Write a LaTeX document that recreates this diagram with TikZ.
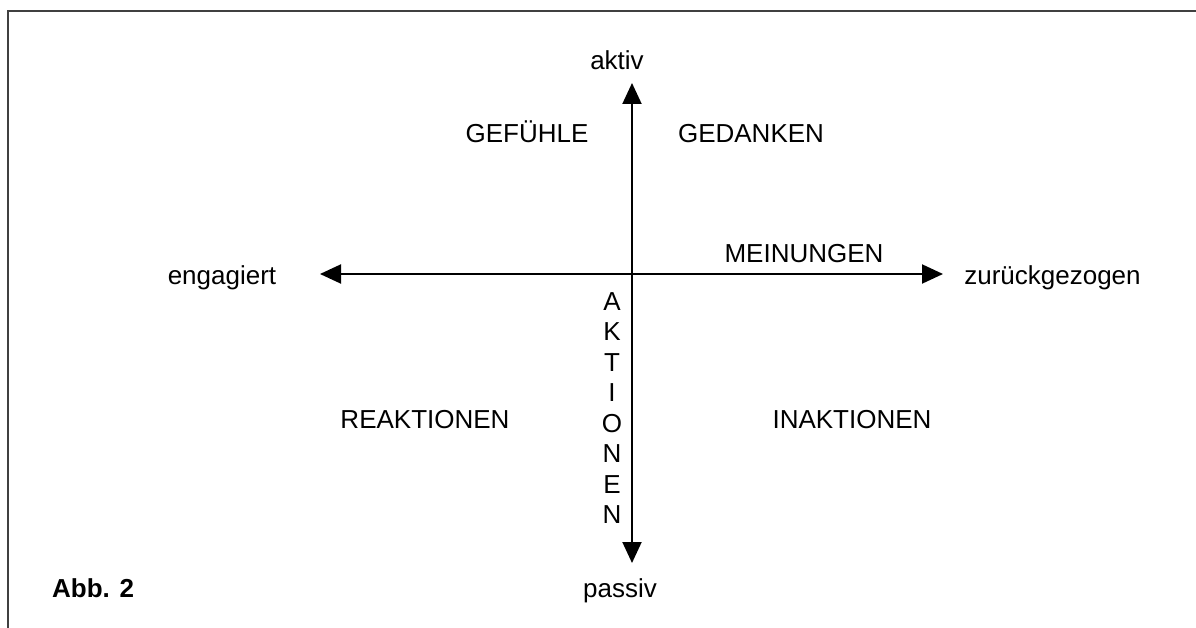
\documentclass[tikz,border=0pt]{standalone}
\usepackage{fontspec}
\setmainfont{Liberation Sans}
\usetikzlibrary{arrows.meta}
\begin{document}
\begin{tikzpicture}[x=1pt,y=-1pt,
  lbl/.style={inner sep=0pt,anchor=base,font=\fontsize{26}{31}\selectfont},
  axis/.style={line width=2pt,{Triangle[length=21pt,width=19pt]}-{Triangle[length=21pt,width=19pt]}},
  frame/.style={line width=2.5pt,color=black!75}]
\useasboundingbox (0,0) rectangle (1196,628);
% frame
\coordinate (fbl) at (8,628);
\coordinate (ftl) at (8,11);
\coordinate (ftr) at (1196,11);
\draw[frame] (fbl) -- (ftl) -- (ftr);
% axes
\coordinate (top) at (632,83);
\coordinate (bot) at (632,563);
\coordinate (lft) at (320,274);
\coordinate (rgt) at (943,274);
\draw[axis] (bot) -- (top);
\draw[axis] (lft) -- (rgt);
% labels
\node[lbl] (aktiv) at (617,70) {aktiv};
\node[lbl] (passiv) at (620,597) {passiv};
\node[lbl] (engagiert) at (222,284) {engagiert};
\node[lbl] (zurueck) at (1052.5,284) {zurückgezogen};
\node[lbl] (gefuehle) at (527,143) {GEFÜHLE};
\node[lbl] (gedanken) at (751,143) {GEDANKEN};
\node[lbl] (meinungen) at (804,262) {MEINUNGEN};
\node[lbl] (reaktionen) at (425,428) {REAKTIONEN};
\node[lbl] (inaktionen) at (852,428) {INAKTIONEN};
\foreach \c [count=\i from 0] in {A,K,T,I,O,N,E,N}
  \node[lbl] (akt\i) at (612,{310+30.5*\i}) {\c};
\node[lbl,anchor=base west,font=\fontsize{26}{31}\selectfont\bfseries] (abb) at (52,597) {Abb. 2};
\end{tikzpicture}
\end{document}
